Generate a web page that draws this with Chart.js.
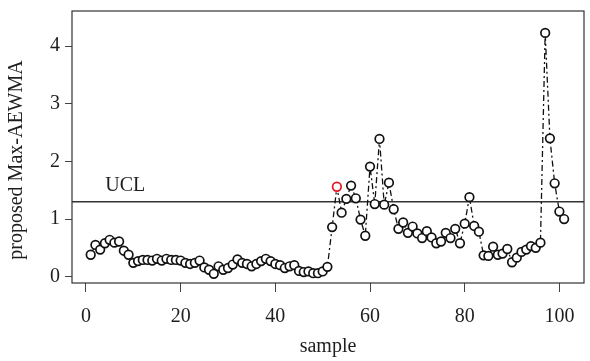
<!DOCTYPE html>
<html><head><meta charset="utf-8">
<script src="https://cdn.jsdelivr.net/npm/chart.js@4.4.0/dist/chart.umd.min.js"></script>
<style>html,body{margin:0;padding:0;background:#fff}canvas{display:block}</style>
</head><body>
<canvas id="c" width="590" height="361"></canvas>
<script>
const samples = [1,2,3,4,5,6,7,8,9,10,11,12,13,14,15,16,17,18,19,20,
  21,22,23,24,25,26,27,28,29,30,31,32,33,34,35,36,37,38,39,40,
  41,42,43,44,45,46,47,48,49,50,51,52,53,54,55,56,57,58,59,60,
  61,62,63,64,65,66,67,68,69,70,71,72,73,74,75,76,77,78,79,80,
  81,82,83,84,85,86,87,88,89,90,91,92,93,94,95,96,97,98,99,100,101];
const maxAewma = [0.38,0.55,0.47,0.58,0.64,0.59,0.61,0.45,0.38,0.24,
  0.27,0.29,0.29,0.28,0.31,0.28,0.31,0.29,0.29,0.28,
  0.24,0.22,0.24,0.28,0.16,0.12,0.05,0.18,0.12,0.15,
  0.21,0.30,0.24,0.22,0.18,0.22,0.27,0.31,0.27,0.22,
  0.20,0.15,0.18,0.20,0.10,0.08,0.09,0.06,0.06,0.09,
  0.17,0.86,1.56,1.11,1.35,1.58,1.36,0.99,0.71,1.91,
  1.26,2.39,1.25,1.63,1.17,0.83,0.94,0.76,0.87,0.75,
  0.67,0.79,0.68,0.58,0.61,0.76,0.67,0.83,0.58,0.92,
  1.38,0.88,0.78,0.37,0.36,0.52,0.38,0.40,0.48,0.25,
  0.33,0.43,0.47,0.53,0.50,0.59,4.23,2.40,1.62,1.13,1.00];
const ucl = 1.3;
const uclLabel = 'UCL';
const xTicks = [0,20,40,60,80,100];
const yTicks = [0,1,2,3,4];
const xTitle = 'sample';
const yTitle = 'proposed Max-AEWMA';

const FONT = '"Liberation Serif", "Times New Roman", serif';
const INK = '#1e1e1e';
const firstSignal = maxAewma.findIndex(v => v > ucl);
const pointColors = maxAewma.map((v, i) => i === firstSignal ? '#e8121c' : '#111');

const decor = {
  id: 'decor',
  beforeDatasetsDraw(chart) {
    const {ctx, chartArea: a, scales: {x, y}} = chart;
    const py = y.getPixelForValue(ucl);
    ctx.save();
    ctx.strokeStyle = '#333';
    ctx.lineWidth = 1.5;
    ctx.beginPath();
    ctx.moveTo(a.left, py);
    ctx.lineTo(a.right, py);
    ctx.stroke();
    ctx.fillStyle = INK;
    ctx.font = '20px ' + FONT;
    ctx.textAlign = 'center';
    ctx.textBaseline = 'middle';
    ctx.fillText(uclLabel, x.getPixelForValue(8.3), y.getPixelForValue(1.57));
    ctx.restore();
  },
  afterDraw(chart) {
    const {ctx, chartArea: a} = chart;
    ctx.save();
    ctx.strokeStyle = '#333';
    ctx.lineWidth = 1.2;
    ctx.strokeRect(a.left, a.top, a.right - a.left, a.bottom - a.top);
    ctx.translate(17, (a.top + a.bottom) / 2 + 13);
    ctx.rotate(-Math.PI / 2);
    ctx.fillStyle = INK;
    ctx.font = '20px ' + FONT;
    ctx.textAlign = 'center';
    ctx.textBaseline = 'middle';
    ctx.fillText(yTitle, 0, 0);
    ctx.restore();
  }
};

new Chart(document.getElementById('c'), {
  type: 'line',
  data: {
    datasets: [{
      data: samples.map((s, i) => ({x: s, y: maxAewma[i]})),
      borderColor: '#111',
      borderWidth: 1.3,
      borderDash: [2, 3, 6, 3],
      tension: 0,
      fill: false,
      pointRadius: 4.3,
      pointHoverRadius: 4.3,
      pointBorderWidth: 1.7,
      pointBorderColor: pointColors,
      pointBackgroundColor: '#fff'
    }]
  },
  options: {
    responsive: false,
    animation: false,
    events: [],
    layout: {padding: {top: 11, right: 2, left: 0, bottom: 0}},
    plugins: {legend: {display: false}, tooltip: {enabled: false}},
    scales: {
      x: {
        type: 'linear',
        min: -2.95, max: 105.2,
        afterBuildTicks: s => { s.ticks = xTicks.map(v => ({value: v})); },
        afterFit: s => { s.height = 78; },
        grid: {drawOnChartArea: false, drawTicks: true, tickLength: 9, color: '#444', lineWidth: 1},
        border: {display: false},
        ticks: {color: INK, padding: 7, maxRotation: 0, autoSkip: false, font: {family: FONT, size: 20, lineHeight: 1.8}},
        title: {display: true, text: xTitle, color: INK, font: {family: FONT, size: 20}, padding: {top: 0, bottom: 2}}
      },
      y: {
        type: 'linear',
        min: -0.11, max: 4.61,
        afterBuildTicks: s => { s.ticks = yTicks.map(v => ({value: v})); },
        afterFit: s => { s.width = 72; },
        grid: {drawOnChartArea: false, drawTicks: true, tickLength: 7, color: '#444', lineWidth: 1},
        border: {display: false},
        ticks: {color: INK, padding: 5, autoSkip: false, font: {family: FONT, size: 20, lineHeight: 0.5}},
        title: {display: false}
      }
    }
  },
  plugins: [decor]
});
</script>
</body></html>
